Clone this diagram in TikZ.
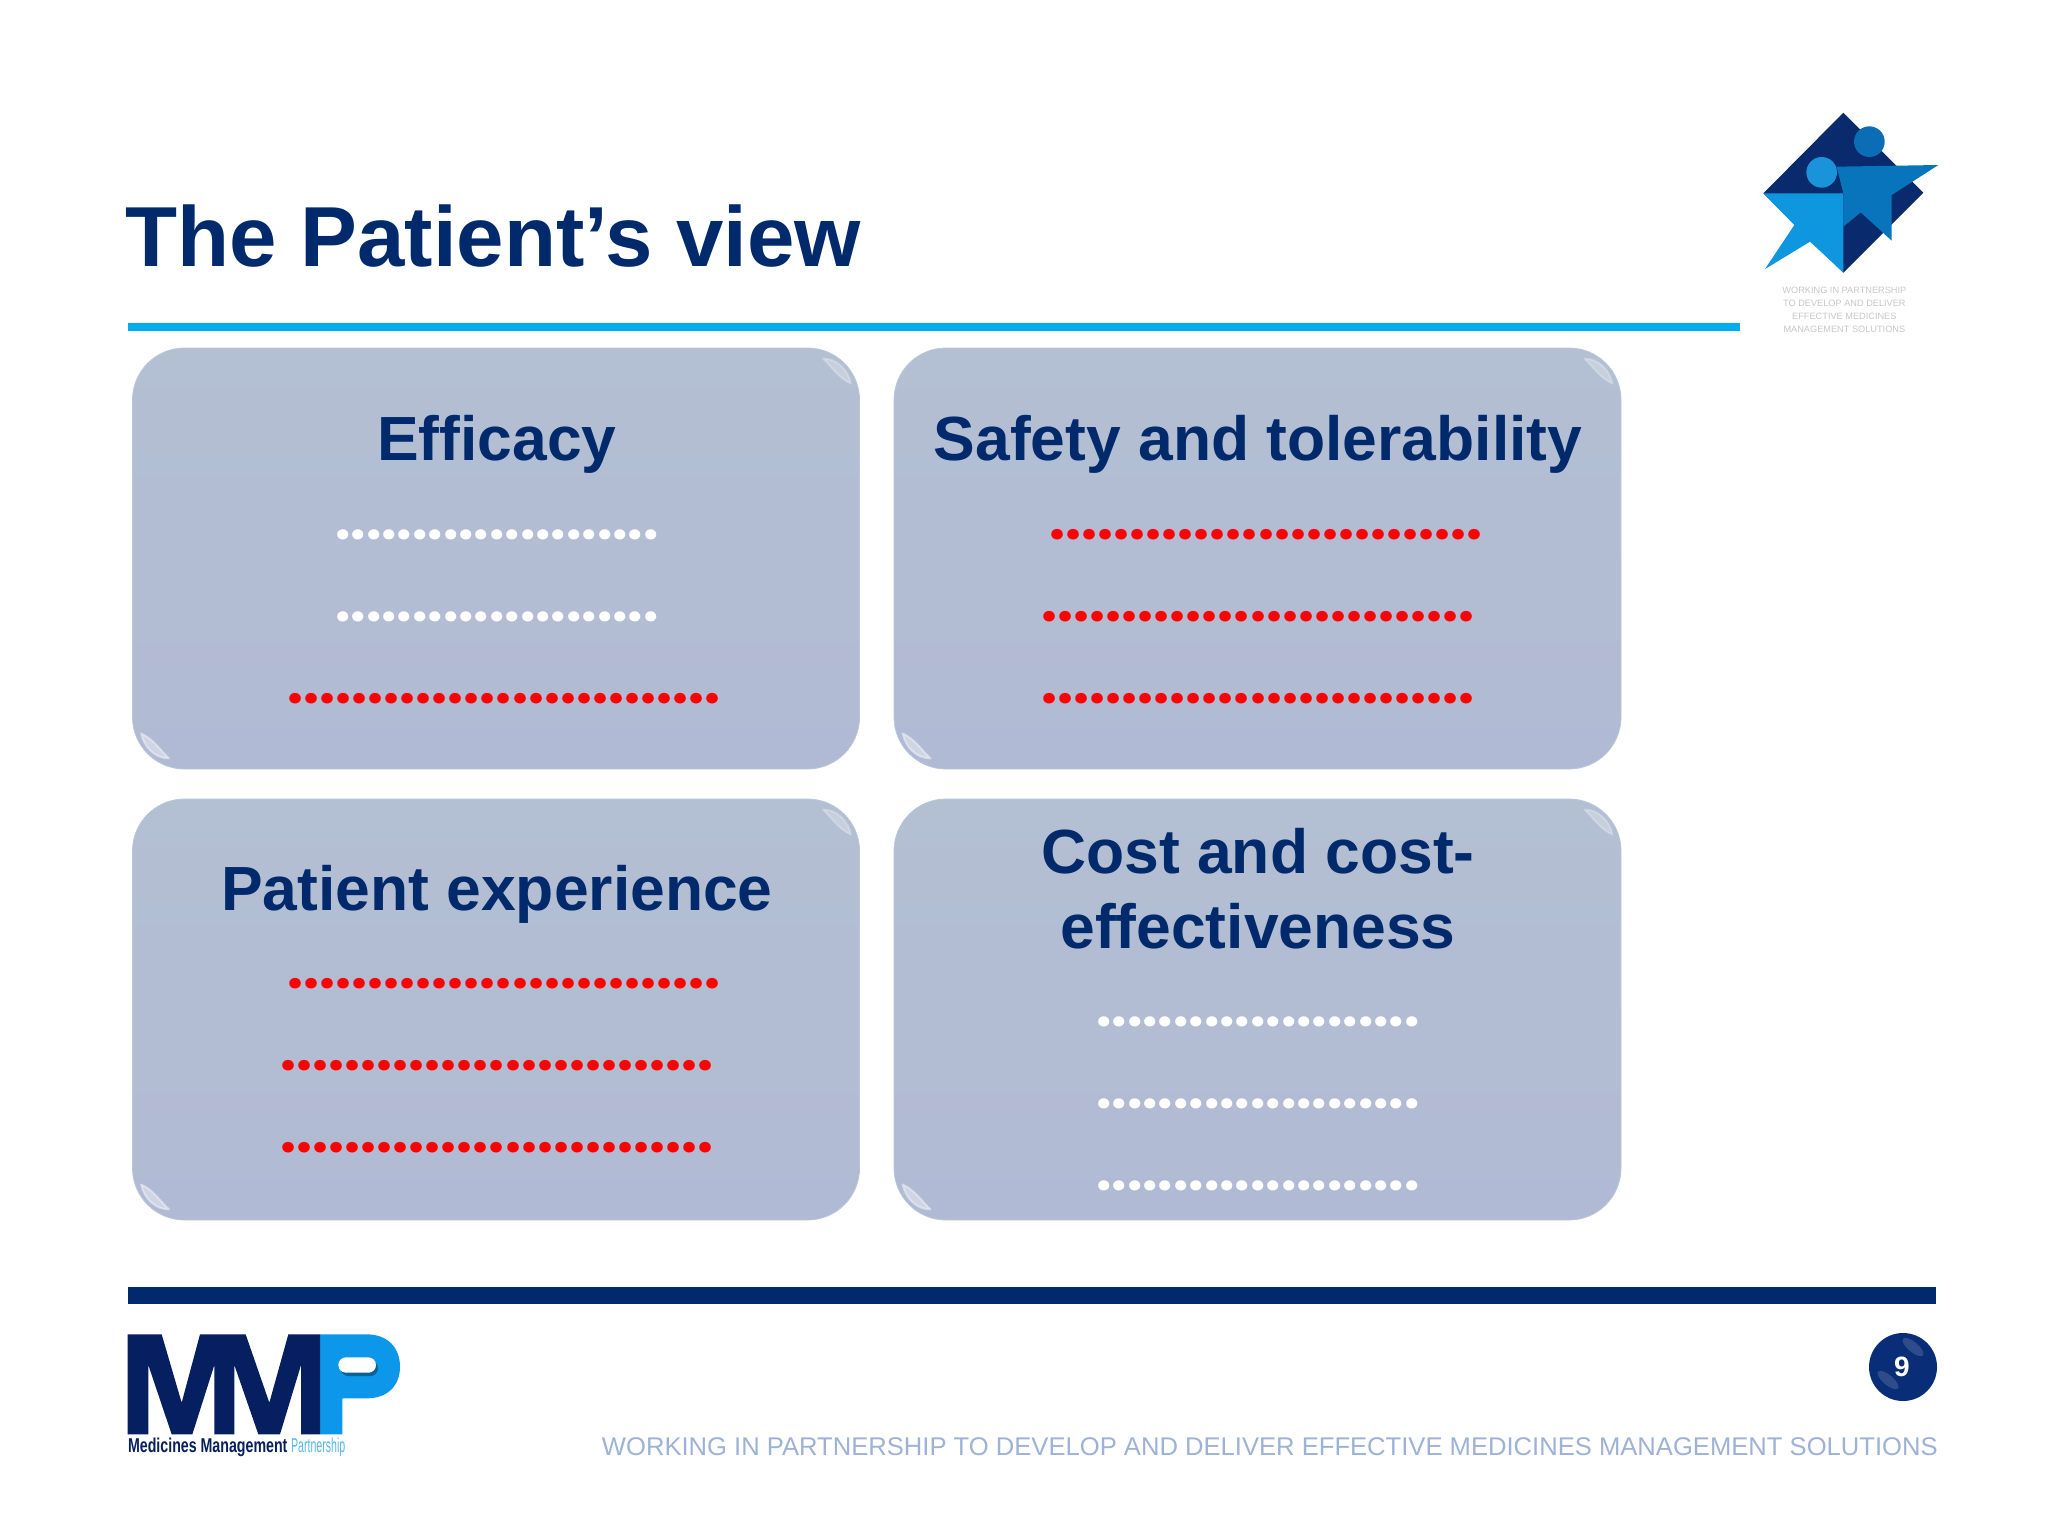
\documentclass[tikz,border=0pt]{standalone}
\usepackage{fontspec}
\setmainfont[Ligatures=CommonOff]{Liberation Sans}
\newfontfamily\narrowfont[FakeStretch=0.71]{Liberation Sans}
\newfontfamily\thinfont[FakeStretch=0.53]{Liberation Sans}
\newfontfamily\dotfont{Poppins}
\definecolor{navy}{HTML}{002A6C}
\definecolor{logonavy}{HTML}{0A2A6E}
\definecolor{mmpnavy}{HTML}{051F60}
\definecolor{skyline}{HTML}{00AEEF}
\definecolor{mmpblue}{HTML}{0C97EA}
\definecolor{footgrey}{HTML}{9DB2D6}
\definecolor{cardtop}{HTML}{B3BFD2}
\definecolor{cardbot}{HTML}{B1BAD4}
\definecolor{cardedge}{HTML}{BAC6D9}
\definecolor{starlight}{HTML}{0E96DE}
\definecolor{starmid}{HTML}{0874BC}
\definecolor{headlight}{HTML}{1B93DA}
\definecolor{headmid}{HTML}{0B6DB5}
\definecolor{ball}{HTML}{0A2D78}
\newcommand{\whitedots}{.....................}
\newcommand{\reddots}{...........................}
\begin{document}
\begin{tikzpicture}[x=0.5pt, y=-0.5pt, align=center, node distance=41pt,
	card/.style = {draw=cardedge, top color=cardtop, bottom color=cardbot, rounded corners=26pt, minimum width=363.5pt, minimum height=210.5pt, inner sep=0pt},
	head/.style = {inner sep=0pt, text=navy, font=\fontsize{31.2}{38}\selectfont\bfseries},
	whiterow/.style = {inner sep=0pt, text=white, font=\dotfont\fontsize{27.3}{30}\selectfont\bfseries},
	redrow/.style = {inner sep=0pt, text=red, font=\dotfont\fontsize{28.4}{30}\selectfont\bfseries},
	glint/.style = {fill=white, draw=white, line width=1pt, line join=round, opacity=0.4}]
	\useasboundingbox (0,0) rectangle (2048,1536);

	% title and rules
	\node[inner sep=0pt, anchor=base west, text=navy, font=\fontsize{42.6}{50}\selectfont\bfseries] (title) at (125,266) {The Patient’s view};
	\fill[skyline] (128,323) rectangle (1740,331);
	\fill[navy] (128,1287) rectangle (1936,1304);

	% cards
	\node[card] (eff) at (496,558.5) {};
	\node[card] (saf) at (1257.5,558.5) {};
	\node[card] (pat) at (496,1009.5) {};
	\node[card] (cost) at (1257.5,1009.5) {};
	\foreach \c in {eff,saf,pat,cost} {
		\fill[glint, opacity=0.25] ([shift={(-37,11)}]\c.north east) .. controls ([shift={(-23,11)}]\c.north east) and ([shift={(-12,22)}]\c.north east) .. ([shift={(-9,36)}]\c.north east) .. controls ([shift={(-22,30)}]\c.north east) and ([shift={(-29,18)}]\c.north east) .. cycle;
		\fill[glint] ([shift={(37,-11)}]\c.south west) .. controls ([shift={(23,-11)}]\c.south west) and ([shift={(12,-22)}]\c.south west) .. ([shift={(9,-36)}]\c.south west) .. controls ([shift={(22,-30)}]\c.south west) and ([shift={(29,-18)}]\c.south west) .. cycle;
	}

	% card texts
	\node[head, anchor=base] (efftext) at (497,460.5) {Efficacy};
	\node[whiterow] (eff1) at (497,534.5) {\whitedots};
	\node[whiterow, below of = eff1] (eff2) {\whitedots};
	\node[redrow, below of = eff2, xshift=3.5pt] (eff3) {\reddots};

	\node[head, anchor=base] (saftext) at (1258,460.5) {Safety and tolerability};
	\node[redrow] (saf1) at (1266,534.5) {\reddots};
	\node[redrow, below of = saf1, xshift=-4pt] (saf2) {\reddots};
	\node[redrow, below of = saf2] (saf3) {\reddots};

	\node[head, anchor=base] (pattext) at (497,910.5) {Patient experience};
	\node[redrow] (pat1) at (504,984) {\reddots};
	\node[redrow, below of = pat1, xshift=-3.5pt] (pat2) {\reddots};
	\node[redrow, below of = pat2] (pat3) {\reddots};

	\node[head, anchor=base] (costtext) at (1258,873.5) {Cost and cost-};
	\node[head, anchor=base] (costtext2) at (1258,948) {effectiveness};
	\node[whiterow] (cost1) at (1258,1022) {\whitedots};
	\node[whiterow, below of = cost1] (cost2) {\whitedots};
	\node[whiterow, below of = cost2] (cost3) {\whitedots};

	% star logo
	\begin{scope}[shift={(1700,90)}, x=0.16667pt, y=-0.16667pt]
		\fill[logonavy] (430,68) -- (670,308) -- (430,548) -- (190,310) -- cycle;
		\fill[starlight] (190,310) -- (430,310) -- (430,548) -- (330,455) -- (195,537) -- (283,405) -- cycle;
		\fill[starmid] (410,230) -- (715,225) -- (575,315) -- (575,452) -- (482,367) -- (430,410) -- (430,310) -- cycle;
		\fill[headlight] (365,247) circle[radius=46];
		\fill[headmid] (508,155) circle[radius=46];
		\node[inner sep=0pt, text=black!22, font=\fontsize{4.6}{6.6}\selectfont] (strap) at (433,660) {WORKING IN PARTNERSHIP\\TO DEVELOP AND DELIVER\\EFFECTIVE MEDICINES\\MANAGEMENT SOLUTIONS};
	\end{scope}

	% mmp logo
	\begin{scope}[shift={(100,1320)}, x=0.16667pt, y=-0.16667pt]
		\fill[mmpblue] (660,43) -- (800,43) .. controls (865,43) and (900,85) .. (900,140) .. controls (900,195) and (865,235) .. (800,235) -- (727,235) -- (727,343) -- (660,343) -- cycle;
		\fill[mmpnavy] (83,43) -- (185,43) -- (245,248) -- (300,43) -- (437,43) -- (508,248) -- (565,43) -- (660,43) -- (660,343) -- (603,343) -- (603,135) -- (540,343) -- (475,343) -- (403,135) -- (403,343) -- (343,343) -- (343,135) -- (277,343) -- (215,343) -- (145,135) -- (145,343) -- (83,343) -- cycle;
		\fill[rounded corners=3.8pt, black!35!mmpblue] (722,122) rectangle (834,168);
		\fill[rounded corners=3.8pt, white] (715,112) rectangle (828,158);
		\node[inner sep=0pt, anchor=base west, text=mmpnavy, font=\narrowfont\fontsize{10}{12}\selectfont\bfseries] (mmpname) at (83,398) {Medicines Management};
		\node[inner sep=0pt, anchor=base west, text=mmpblue!70, font=\thinfont\fontsize{10}{12}\selectfont] (mmppart) at (572,398) {Partnership};
	\end{scope}

	% footer
	\node[inner sep=0pt, anchor=base east, text=footgrey, font=\fontsize{12.8}{15}\selectfont] (strapline) at (1938,1455) {WORKING IN PARTNERSHIP TO DEVELOP AND DELIVER EFFECTIVE MEDICINES MANAGEMENT SOLUTIONS};
	\fill[ball] (1903,1367) circle[radius=34];
	\fill[white, opacity=0.15, rotate around={-40:(1913,1347)}] (1913,1347) ellipse[x radius=13, y radius=5];
	\fill[white, opacity=0.15, rotate around={-40:(1888,1380)}] (1888,1380) ellipse[x radius=13, y radius=5];
	\node[inner sep=0pt, text=white, font=\fontsize{14}{16}\selectfont\bfseries] (pageno) at (1902,1367) {9};
\end{tikzpicture}
\end{document}
